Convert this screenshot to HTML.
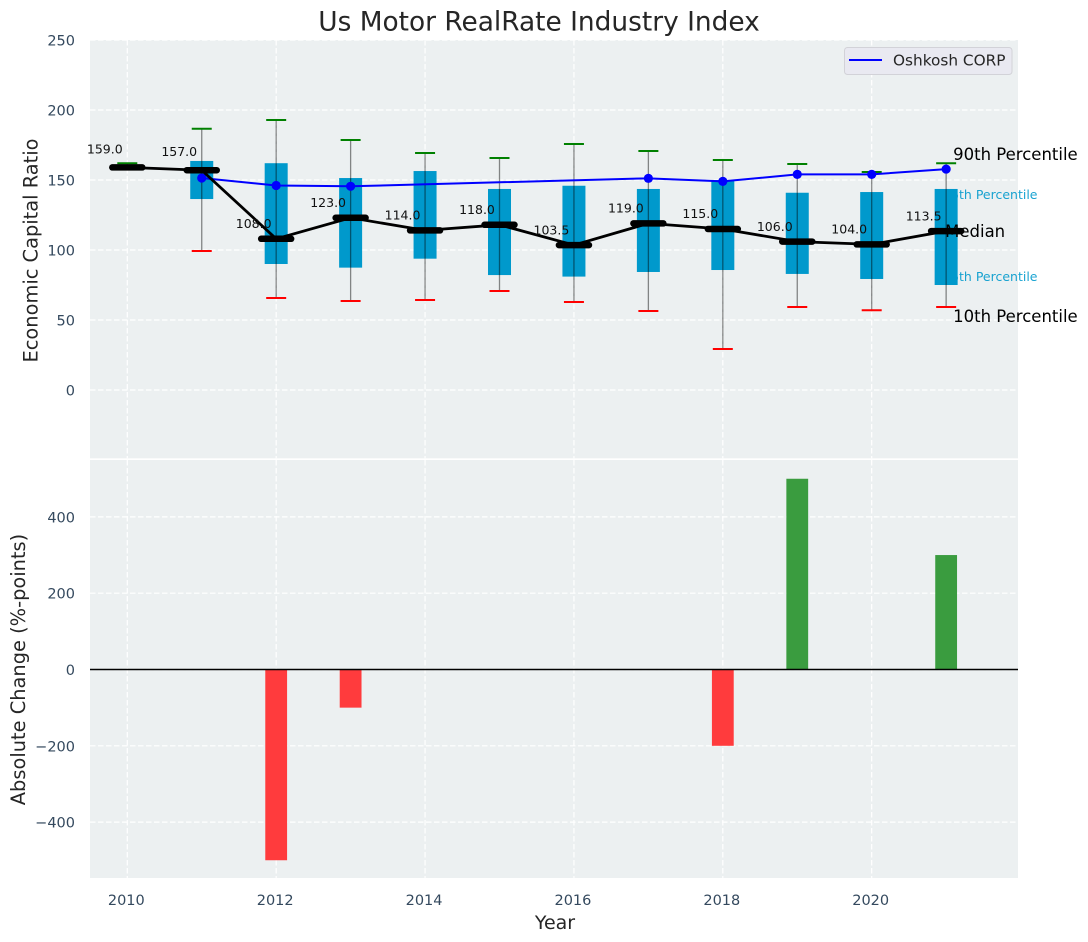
<!DOCTYPE html>
<html>
<head>
<meta charset="utf-8">
<title>Us Motor RealRate Industry Index</title>
<style>
html,body{margin:0;padding:0;background:#fff;}
svg{display:block;font-family:"DejaVu Sans","Liberation Sans",sans-serif;}
</style>
</head>
<body>
<svg id="chart" xmlns="http://www.w3.org/2000/svg" width="1088" height="942" viewBox="0 0 1088 942"></svg>
<script>
const years = [2010,2011,2012,2013,2014,2015,2016,2017,2018,2019,2020,2021];
const p90 = [162,186.6,192.9,178.6,169.3,165.7,175.7,170.7,164.3,161.4,155.7,162];
const p75 = [159,163.6,162,151.4,156.4,143.6,145.9,143.6,150,140.9,141.4,143.6];
const medians = [159,157,108,123,114,118,103.5,119,115,106,104,113.5];
const p25 = [159,136.4,90,87.4,93.8,82.1,81,84.3,85.7,82.9,79.3,75];
const p10 = [159,99.3,65.7,63.6,64.3,70.7,62.9,56.4,29.3,59.3,57,59.3];
const companyValues = [null,151.4,146.1,145.5,null,null,null,151.2,149,154,154,157.8];
const absoluteChange = [0,0,-500,-100,0,0,0,0,-200,500,0,300];
const xTicks = [2010,2012,2014,2016,2018,2020];
const topYTicks = [0,50,100,150,200,250];
const bottomYTicks = [-400,-200,0,200,400];

const NS = 'http://www.w3.org/2000/svg';
const svg = document.getElementById('chart');
const L = 90, R = 1018;
const T1 = 40, B1 = 458.3, T2 = 460, B2 = 878;
const x = v => 127.3 + 74.44 * (v - 2010);
const yTop = v => 390 - 1.4 * v;
const yBot = v => 669.5 - 0.3815 * v;

function add(tag, attrs, parent, text) {
  const el = document.createElementNS(NS, tag);
  for (const k in attrs) el.setAttribute(k, attrs[k]);
  if (text !== undefined) el.textContent = text;
  (parent || svg).appendChild(el);
  return el;
}
function group(name) {
  const g = add('g', {});
  
  
  return g;
}
function label(parent, name, txt, attrs) {
  const t = add('text', attrs, parent, txt);
  
  
  return t;
}
function fmtTick(v) { return v < 0 ? '\u2212' + Math.abs(v) : String(v); }

/* panels */
const panelTop = add('rect', {x:L, y:T1, width:R-L, height:B1-T1, fill:'#ecf0f1'});


const panelBot = add('rect', {x:L, y:T2, width:R-L, height:B2-T2, fill:'#ecf0f1'});



/* grid */
const gridG = group('grid-lines');
const gridStyle = {stroke:'#ffffff', 'stroke-width':1.2, 'stroke-dasharray':'5.5 2.5', fill:'none'};
xTicks.forEach(v => {
  add('line', Object.assign({x1:x(v), x2:x(v), y1:T1, y2:B1}, gridStyle), gridG);
  add('line', Object.assign({x1:x(v), x2:x(v), y1:T2, y2:B2}, gridStyle), gridG);
});
topYTicks.forEach(v => {
  add('line', Object.assign({x1:L, x2:R, y1:yTop(v), y2:yTop(v)}, gridStyle), gridG);
});
bottomYTicks.forEach(v => {
  add('line', Object.assign({x1:L, x2:R, y1:yBot(v), y2:yBot(v)}, gridStyle), gridG);
});

/* tick labels */
const tickG = group('tick-labels');
const tickStyle = {fill:'#34495e', 'font-size':'14.5px'};
xTicks.forEach(v => {
  label(tickG, 'x-tick-label', String(v), Object.assign({x:x(v)-1, y:905, 'text-anchor':'middle'}, tickStyle));
});
topYTicks.forEach(v => {
  label(tickG, 'top-y-tick-label', fmtTick(v), Object.assign({x:75, y:yTop(v)+5.5, 'text-anchor':'end'}, tickStyle));
});
bottomYTicks.forEach(v => {
  label(tickG, 'bottom-y-tick-label', fmtTick(v), Object.assign({x:75, y:yBot(v)+5.5, 'text-anchor':'end'}, tickStyle));
});

/* annotations that sit beneath the boxes */
const last = years.length - 1;
const annoTextX = x(years[last]);
const annoUnder = group('box-annotations');
label(annoUnder, 'p75-annotation', '75th Percentile', {x:annoTextX-3, y:yTop(p75[last])+10, fill:'#0099cc', 'font-size':'12.5px', 'fill-opacity':0.9});
label(annoUnder, 'p25-annotation', '25th Percentile', {x:annoTextX-3, y:yTop(p25[last])-4, fill:'#0099cc', 'font-size':'12.5px', 'fill-opacity':0.9});

/* boxes */
const boxG = group('percentile-boxes');
years.forEach((yr, i) => {
  const h = yTop(p25[i]) - yTop(p75[i]);
  if (h <= 0) return;
  const b = add('rect', {x:x(yr)-11.5, y:yTop(p75[i]), width:23, height:h, fill:'#0099cc'}, boxG);
  
  
});

/* whiskers */
const whiskG = group('whiskers');
years.forEach((yr, i) => {
  const w = add('line', {x1:x(yr), x2:x(yr), y1:yTop(p90[i]), y2:yTop(p10[i]), stroke:'#000', 'stroke-opacity':0.45, 'stroke-width':1.3}, whiskG);
  
  
  const hi = add('line', {x1:x(yr)-10, x2:x(yr)+10, y1:yTop(p90[i]), y2:yTop(p90[i]), stroke:'#008000', 'stroke-width':2}, whiskG);
  
  
  const lo = add('line', {x1:x(yr)-10, x2:x(yr)+10, y1:yTop(p10[i]), y2:yTop(p10[i]), stroke:'#ff0000', 'stroke-width':2}, whiskG);
  
  
});

/* company line */
const compG = group('oshkosh-series');
const compPts = years.map((yr, i) => companyValues[i] === null ? null : [x(yr), yTop(companyValues[i])]).filter(Boolean);
const compLine = add('polyline', {points:compPts.map(p => p.join(',')).join(' '), fill:'none', stroke:'#0000ff', 'stroke-width':2}, compG);


compPts.forEach(p => {
  const c = add('circle', {cx:p[0], cy:p[1], r:4.6, fill:'#0000ff'}, compG);
  
  
});

/* annotations for whiskers and median */
const annoOver = group('percentile-annotations');
label(annoOver, 'p90-annotation', '90th Percentile', {x:annoTextX+7, y:yTop(p90[last])-3, fill:'#000', 'font-size':'16.5px'});
label(annoOver, 'p10-annotation', '10th Percentile', {x:annoTextX+7, y:yTop(p10[last])+15, fill:'#000', 'font-size':'16.5px'});

/* median */
const medG = group('median-series');
const medLine = add('polyline', {points:years.map((yr, i) => x(yr) + ',' + yTop(medians[i])).join(' '), fill:'none', stroke:'#000', 'stroke-width':2.8}, medG);


years.forEach((yr, i) => {
  const m = add('line', {x1:x(yr)-15, x2:x(yr)+15, y1:yTop(medians[i]), y2:yTop(medians[i]), stroke:'#000', 'stroke-width':6.5, 'stroke-linecap':'round'}, medG);
  
  
  label(medG, 'median-value-label', medians[i].toFixed(1), {x:x(yr)-22.5, y:yTop(medians[i]) - (medians[i] > 150 ? 14 : 10.8), 'text-anchor':'middle', fill:'#111', 'font-size':'12.5px'});
});
label(annoOver, 'median-annotation', 'Median', {x:annoTextX-1, y:yTop(medians[last])+6, fill:'#000', 'font-size':'16.5px'});

/* bars */
const barG = group('absolute-change-bars');
years.forEach((yr, i) => {
  const v = absoluteChange[i];
  if (v === 0) return;
  const y0 = yBot(Math.max(v, 0));
  const y1 = yBot(Math.min(v, 0));
  const b = add('rect', {x:x(yr)-10.9, y:y0, width:21.8, height:y1-y0, fill:v > 0 ? '#3a9c3f' : '#ff3b3d'}, barG);
  
  
});
const zeroLine = add('line', {x1:L, x2:R, y1:yBot(0), y2:yBot(0), stroke:'#000', 'stroke-width':1.4});



/* titles */
const titles = group('chart-titles');
label(titles, 'chart-title', 'Us Motor RealRate Industry Index', {x:539, y:30.5, 'text-anchor':'middle', fill:'#262626', 'font-size':'26.4px'});
label(titles, 'x-axis-title', 'Year', {x:555, y:929, 'text-anchor':'middle', fill:'#262626', 'font-size':'19px'});
label(titles, 'top-y-axis-title', 'Economic Capital Ratio', {transform:'translate(37.5,250.5) rotate(-90)', 'text-anchor':'middle', fill:'#262626', 'font-size':'19.4px'});
label(titles, 'bottom-y-axis-title', 'Absolute Change (%-points)', {transform:'translate(25,669.5) rotate(-90)', 'text-anchor':'middle', fill:'#262626', 'font-size':'19.4px'});

/* legend */
const legend = group('legend');
const legendBox = add('rect', {x:844.5, y:47.5, width:167.5, height:27, rx:3, fill:'#e9e9f1', stroke:'#d2d2d8', 'stroke-width':1}, legend);


const legendLine = add('line', {x1:849, x2:882, y1:60, y2:60, stroke:'#0000ff', 'stroke-width':2}, legend);


label(legend, 'legend-label', 'Oshkosh CORP', {x:893, y:65.5, fill:'#262626', 'font-size':'15.3px'});
</script>
</body>
</html>
